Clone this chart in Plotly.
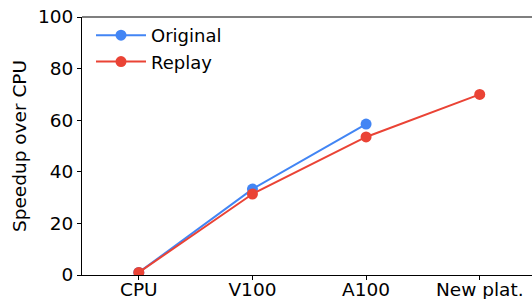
import plotly.graph_objects as go

platforms = ["CPU", "V100", "A100", "New plat."]
original = [1.0, 33.3, 58.5, None]
replay = [1.0, 31.4, 53.5, 70.0]
x_idx = [0, 1, 2, 3]

fig = go.Figure()
fig.add_trace(go.Scatter(x=x_idx, y=original, name="Original", mode="lines+markers",
                         line=dict(color="#4285F4", width=2), marker=dict(size=11, color="#4285F4")))
fig.add_trace(go.Scatter(x=x_idx, y=replay, name="Replay", mode="lines+markers",
                         line=dict(color="#EA4335", width=2), marker=dict(size=11, color="#EA4335")))

font = dict(family="DejaVu Sans", size=18.5, color="black")
fig.update_layout(
    width=532, height=299,
    margin=dict(l=82, r=0, t=17, b=24, autoexpand=False),
    plot_bgcolor="white", paper_bgcolor="white",
    font=font,
    showlegend=True,
    legend=dict(x=0.02, y=1.0, xanchor="left", yanchor="top", bgcolor="rgba(0,0,0,0)",
                font=dict(family="DejaVu Sans", size=18), itemwidth=50, tracegroupgap=0),
    xaxis=dict(range=[-0.5, 3.46], tickmode="array", tickvals=x_idx, ticktext=platforms,
               showgrid=False, zeroline=False, showline=True, linecolor="black", linewidth=1.2,
               mirror=False, ticks="outside", ticklen=4, tickcolor="black", tickfont=font,
               automargin=False, ticklabelstandoff=-6),
    yaxis=dict(range=[0, 100], tickvals=[0, 20, 40, 60, 80, 100],
               showgrid=False, zeroline=False, showline=True, linecolor="black", linewidth=1.2,
               ticks="outside", ticklen=4, tickcolor="black", tickfont=font, automargin=False,
               title=dict(text="Speedup over CPU", font=font, standoff=6)),
    shapes=[dict(type="line", xref="paper", yref="paper", x0=0, x1=1, y0=1, y1=1,
                 line=dict(color="black", width=1.2))],
)

fig.write_html("out.html", config={"displayModeBar": False},
               post_script="document.body.style.margin='0';document.body.style.overflow='hidden';")
